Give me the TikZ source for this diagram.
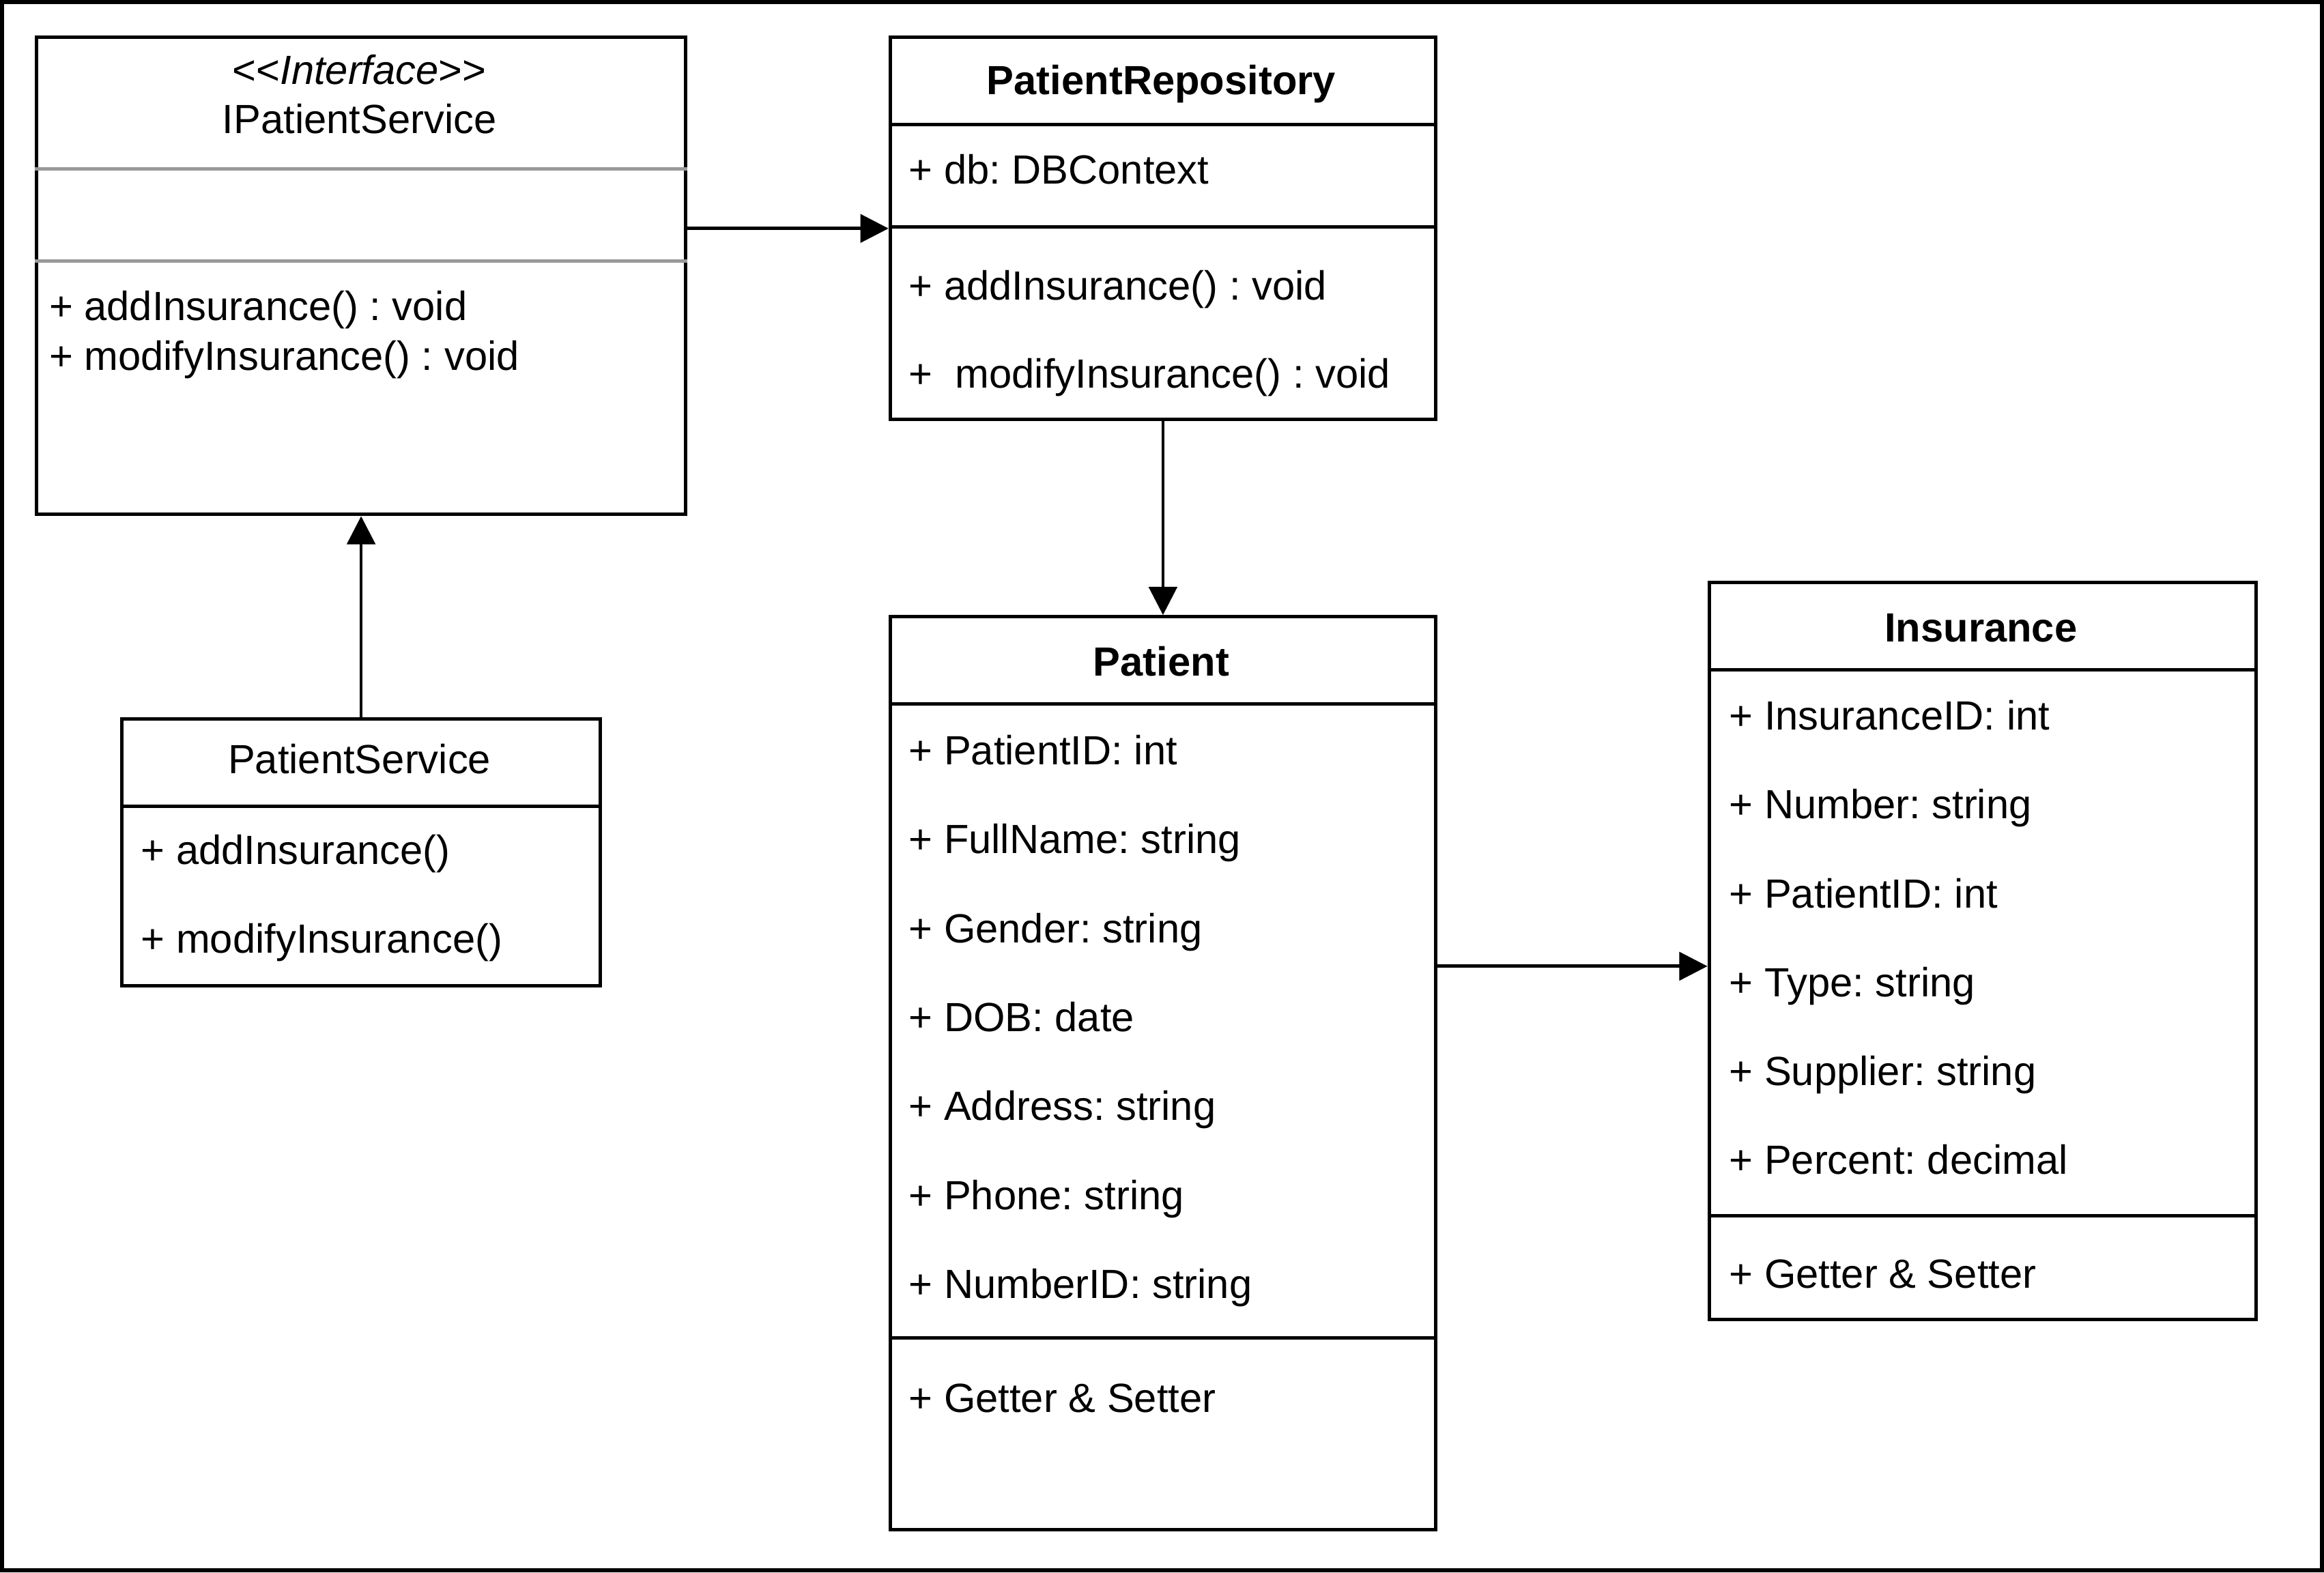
\documentclass[tikz,border=0pt]{standalone}
\usepackage{fontspec}
\setmainfont{Liberation Sans}
\frenchspacing
\usetikzlibrary{arrows.meta}
\usetikzlibrary{positioning}
\definecolor{sepgray}{RGB}{153,153,153}
\newcommand{\umlfont}{\fontsize{27.5pt}{33pt}\selectfont}

\begin{document}
\begin{tikzpicture}[x=1pt, y=-1pt, >={Triangle[length=19pt, width=19pt]}, font=\umlfont]
	\tikzstyle{class} = [draw, line width=2.3pt, anchor=north west, inner sep=0pt];
	\tikzstyle{member} = [anchor=base west, inner sep=0pt];
	\tikzstyle{title} = [anchor=base, inner sep=0pt, font=\umlfont\bfseries];
	\tikzstyle{plaintitle} = [anchor=base, inner sep=0pt];
	\tikzstyle{sep} = [line width=2.3pt];

	\useasboundingbox (0,0) rectangle (1568,1061);
	\draw [line width=2.6pt] (1.3,1.3) rectangle (1566.7,1059.7);

	\node [class, minimum width=438pt, minimum height=322pt] (iservice) at (23.5,24) {};
	\node [plaintitle] (istereo) at (242.5,57) {<\kern0pt<\textit{Interface}>\kern0pt>};
	\node [plaintitle] (iname) at (242.5,90) {IPatientService};
	\draw [sep, sepgray] (iservice.west |- 0,114) -- (iservice.east |- 0,114);
	\draw [sep, sepgray] (iservice.west |- 0,176) -- (iservice.east |- 0,176);
	\node [member] (iadd) at (33,216) {+ addInsurance() : void};
	\node [member] (imodify) at (33,250) {+ modifyInsurance() : void};

	\node [class, minimum width=323pt, minimum height=180pt] (pservice) at (81,484) {};
	\node [plaintitle] (psname) at (242.5,522) {PatientService};
	\draw [sep] (pservice.west |- 0,544) -- (pservice.east |- 0,544);
	\node [member] (psadd) at (95,583) {+ addInsurance()};
	\node [member] (psmodify) at (95,643) {+ modifyInsurance()};

	\node [class, minimum width=368pt, minimum height=258pt] (repo) at (599.5,24) {};
	\node [title] (reponame) at (783.5,64) {PatientRepository};
	\draw [sep] (repo.west |- 0,84) -- (repo.east |- 0,84);
	\draw [sep] (repo.west |- 0,153) -- (repo.east |- 0,153);
	\node [member] (repodb) at (613,124) {+ db: DBContext};
	\node [member] (repoadd) at (613,202.5) {+ addInsurance() : void};
	\node [member] (repomodify) at (613,262) {+\ \ modifyInsurance() : void};

	\node [class, minimum width=368pt, minimum height=616pt] (patient) at (599.5,415) {};
	\node [title] (patname) at (783.5,456) {Patient};
	\draw [sep] (patient.west |- 0,475) -- (patient.east |- 0,475);
	\draw [sep] (patient.west |- 0,903) -- (patient.east |- 0,903);
	\node [member] (patid) at (613,516) {+ PatientID: int};
	\node [member] (patfull) at (613,576) {+ FullName: string};
	\node [member] (patgender) at (613,636) {+ Gender: string};
	\node [member] (patdob) at (613,696) {+ DOB: date};
	\node [member] (pataddr) at (613,756) {+ Address: string};
	\node [member] (patphone) at (613,816) {+ Phone: string};
	\node [member] (patnum) at (613,876) {+ NumberID: string};
	\node [member] (patget) at (613,953) {+ Getter \& Setter};

	\node [class, minimum width=369pt, minimum height=497pt] (ins) at (1152,392) {};
	\node [title] (insname) at (1336.5,433) {Insurance};
	\draw [sep] (ins.west |- 0,452) -- (ins.east |- 0,452);
	\draw [sep] (ins.west |- 0,820.5) -- (ins.east |- 0,820.5);
	\node [member] (insid) at (1166.5,492.5) {+ InsuranceID: int};
	\node [member] (insnum) at (1166.5,552.5) {+ Number: string};
	\node [member] (inspat) at (1166.5,612.5) {+ PatientID: int};
	\node [member] (instype) at (1166.5,672.5) {+ Type: string};
	\node [member] (inssup) at (1166.5,732.5) {+ Supplier: string};
	\node [member] (insper) at (1166.5,792.5) {+ Percent: decimal};
	\node [member] (insget) at (1166.5,869) {+ Getter \& Setter};

	\coordinate (inslink) at (1152,652);

	\path [->, line width=2.2pt] (iservice.east |- repo.west) edge (repo.west)
		(repo.south) edge (patient.north)
		(patient.east |- inslink) edge (inslink)
		(pservice.north) edge (pservice.north |- iservice.south);
\end{tikzpicture}
\end{document}
